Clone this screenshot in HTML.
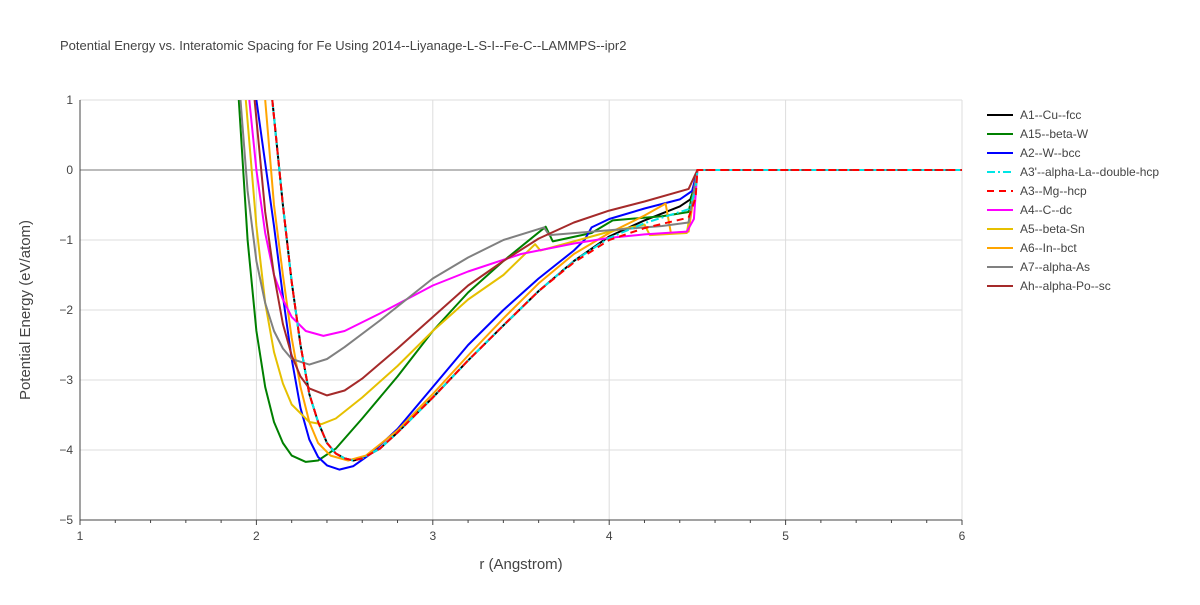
<!DOCTYPE html>
<html><head><meta charset="utf-8"><style>
body{margin:0;background:#fff;font-family:"Liberation Sans",sans-serif}
svg text{font-family:"Liberation Sans",sans-serif}
</style></head><body>
<svg id="chart" width="1200" height="600" xmlns="http://www.w3.org/2000/svg">
<defs><clipPath id="plotclip"><rect x="80" y="100" width="882" height="420"/></clipPath></defs>
<text x="60" y="50" font-size="13" fill="#444">Potential Energy vs. Interatomic Spacing for Fe Using 2014--Liyanage-L-S-I--Fe-C--LAMMPS--ipr2</text>
<g id="grid"></g>
<g id="axes"></g>
<g id="series" clip-path="url(#plotclip)"></g>
<g id="legend"></g>
<text x="521" y="569" font-size="15" fill="#444" text-anchor="middle">r (Angstrom)</text>
<text transform="translate(30,310) rotate(-90)" font-size="15" fill="#444" text-anchor="middle">Potential Energy (eV/atom)</text>
</svg>
<script>
const xTicks=[1,2,3,4,5,6];
const yTicks=[1,0,-1,-2,-3,-4,-5];
const seriesNames=["A1--Cu--fcc","A15--beta-W","A2--W--bcc","A3'--alpha-La--double-hcp","A3--Mg--hcp","A4--C--dc","A5--beta-Sn","A6--In--bct","A7--alpha-As","Ah--alpha-Po--sc"];
const seriesColors=["#000000","#008000","#0000ff","#00e5e5","#ff0000","#ff00ff","#e6c000","#ffa500","#808080","#a52a2a"];
const seriesDash=["","","","8,3,2,3","7,5","","","","",""];
const tail=[[4.5,0],[6,0]];
const rA1=[2.09,2.15,2.2,2.25,2.3,2.35,2.4,2.45,2.5,2.55,2.6,2.7,2.8,3.0,3.2,3.4,3.6,3.8,4.0,4.2,4.4,4.46,4.49,4.5,6];
const eA1=[1,-0.5,-1.6,-2.5,-3.2,-3.6,-3.9,-4.05,-4.12,-4.15,-4.12,-3.98,-3.75,-3.25,-2.72,-2.22,-1.73,-1.3,-0.95,-0.72,-0.52,-0.42,-0.2,0,0];
const rA15=[1.9,1.95,2.0,2.05,2.1,2.15,2.2,2.28,2.35,2.45,2.6,2.8,3.0,3.2,3.4,3.64,3.68,3.9,4.02,4.3,4.45,4.5,6];
const eA15=[1,-1.0,-2.3,-3.1,-3.6,-3.9,-4.08,-4.17,-4.15,-3.98,-3.55,-2.95,-2.3,-1.75,-1.3,-0.81,-1.02,-0.9,-0.72,-0.66,-0.6,0,0];
const rA2=[2.0,2.1,2.15,2.2,2.25,2.3,2.35,2.4,2.47,2.55,2.65,2.8,3.0,3.2,3.4,3.6,3.8,3.86,3.9,4.0,4.2,4.4,4.47,4.5,6];
const eA2=[1,-0.8,-1.8,-2.7,-3.4,-3.85,-4.1,-4.22,-4.28,-4.23,-4.05,-3.7,-3.1,-2.5,-2.0,-1.55,-1.15,-1.0,-0.82,-0.7,-0.55,-0.42,-0.3,0,0];
const rA3p=[2.09,2.15,2.2,2.25,2.3,2.35,2.4,2.45,2.5,2.55,2.6,2.7,2.8,3.0,3.2,3.4,3.6,3.8,4.0,4.2,4.45,4.49,4.5,6];
const eA3p=[1,-0.5,-1.6,-2.5,-3.2,-3.6,-3.9,-4.05,-4.12,-4.15,-4.12,-3.98,-3.75,-3.25,-2.72,-2.22,-1.73,-1.3,-0.97,-0.76,-0.56,-0.3,0,0];
const rA3=[2.09,2.15,2.2,2.25,2.3,2.35,2.4,2.45,2.5,2.55,2.6,2.7,2.8,3.0,3.2,3.4,3.6,3.8,4.0,4.2,4.45,4.49,4.5,6];
const eA3=[1,-0.5,-1.6,-2.5,-3.2,-3.6,-3.9,-4.05,-4.12,-4.15,-4.12,-3.98,-3.75,-3.25,-2.72,-2.22,-1.73,-1.32,-1.0,-0.83,-0.68,-0.4,0,0];
const rA4=[1.96,2.0,2.05,2.1,2.15,2.2,2.28,2.38,2.5,2.7,3.0,3.2,3.5,3.8,4.0,4.2,4.44,4.48,4.5,6];
const eA4=[1,0,-0.9,-1.5,-1.85,-2.1,-2.3,-2.37,-2.3,-2.05,-1.65,-1.45,-1.2,-1.05,-0.97,-0.92,-0.88,-0.7,0,0];
const rA5=[1.94,2.0,2.05,2.1,2.15,2.2,2.3,2.37,2.45,2.6,2.8,3.0,3.2,3.4,3.58,3.61,3.8,4.0,4.2,4.23,4.44,4.5,6];
const eA5=[1,-0.8,-1.9,-2.6,-3.05,-3.35,-3.6,-3.63,-3.55,-3.25,-2.8,-2.3,-1.85,-1.5,-1.06,-1.15,-1.02,-0.88,-0.78,-0.93,-0.9,0,0];
const rA6=[2.05,2.1,2.15,2.2,2.25,2.3,2.35,2.42,2.52,2.62,2.8,3.0,3.2,3.4,3.6,3.8,4.0,4.2,4.32,4.35,4.45,4.5,6];
const eA6=[1,-0.5,-1.5,-2.4,-3.1,-3.6,-3.9,-4.08,-4.15,-4.08,-3.72,-3.2,-2.65,-2.12,-1.62,-1.2,-0.9,-0.65,-0.48,-0.9,-0.88,0,0];
const rA7=[1.91,1.95,2.0,2.05,2.1,2.15,2.2,2.3,2.4,2.5,2.7,3.0,3.2,3.4,3.63,3.66,4.0,4.3,4.45,4.5,6];
const eA7=[1,-0.3,-1.3,-1.9,-2.3,-2.55,-2.7,-2.78,-2.7,-2.53,-2.15,-1.55,-1.25,-1.0,-0.82,-0.93,-0.86,-0.8,-0.75,0,0];
const rAh=[1.99,2.05,2.1,2.15,2.2,2.25,2.3,2.4,2.5,2.6,2.8,3.0,3.2,3.4,3.6,3.8,4.0,4.2,4.45,4.5,6];
const eAh=[1,-0.6,-1.5,-2.2,-2.65,-2.95,-3.12,-3.22,-3.15,-2.98,-2.55,-2.1,-1.65,-1.3,-0.98,-0.75,-0.58,-0.45,-0.27,0,0];
const allR=[rA1,rA15,rA2,rA3p,rA3,rA4,rA5,rA6,rA7,rAh];
const allE=[eA1,eA15,eA2,eA3p,eA3,eA4,eA5,eA6,eA7,eAh];
const NS="http://www.w3.org/2000/svg";
const xs=r=>80+(r-1)*176.4;
const ys=e=>100+(1-e)*70;
function mk(tag,attrs,parent){const el=document.createElementNS(NS,tag);for(const k in attrs)el.setAttribute(k,attrs[k]);parent.appendChild(el);return el;}
const grid=document.getElementById('grid'),axes=document.getElementById('axes'),ser=document.getElementById('series'),leg=document.getElementById('legend');
xTicks.forEach(t=>{
  if(t>1){const l=mk('line',{x1:xs(t),x2:xs(t),y1:100,y2:520,stroke:'#ddd','stroke-width':1},grid);
  
  }
  const tx=mk('text',{x:xs(t),y:540,'font-size':12,fill:'#444','text-anchor':'middle'},axes);tx.textContent=t;
  
  
});
for(let i=0;i<=25;i++){const r=1+i*0.2;const m=mk('line',{x1:xs(r),x2:xs(r),y1:520,y2:i%5===0?525:523,stroke:'#444','stroke-width':1},axes);
  
  }
yTicks.forEach(t=>{
  const l=mk('line',{x1:80,x2:962,y1:ys(t),y2:ys(t),stroke:t===0?'#bbb':'#ddd','stroke-width':t===0?2:1},grid);
  
  
  const tx=mk('text',{x:73,y:ys(t)+4,'font-size':12,fill:'#444','text-anchor':'end'},axes);tx.textContent=(t<0?'\u2212'+(-t):t);
  
  
});
const ax1=mk('line',{x1:80,x2:80,y1:100,y2:520,stroke:'#444','stroke-width':1},axes);


const ax2=mk('line',{x1:80,x2:962,y1:520,y2:520,stroke:'#444','stroke-width':1},axes);


const order=[0,1,2,7,6,5,8,9,3,4];
order.forEach(i=>{
  const pts=allR[i].map((r,j)=>xs(r).toFixed(1)+','+ys(allE[i][j]).toFixed(1)).join(' ');
  const p=mk('polyline',{points:pts,fill:'none',stroke:seriesColors[i],'stroke-width':2,'stroke-linejoin':'round'},ser);
  if(seriesDash[i])p.setAttribute('stroke-dasharray',seriesDash[i]);
  
  
});
seriesNames.forEach((n,i)=>{
  const y=115+i*19;
  const g=mk('g',{},leg);
  
  
  const l=mk('line',{x1:987,x2:1013,y1:y,y2:y,stroke:seriesColors[i],'stroke-width':2},g);
  if(seriesDash[i])l.setAttribute('stroke-dasharray',seriesDash[i]);
  const t=mk('text',{x:1020,y:y+4,'font-size':12,fill:'#444'},g);t.textContent=n;
});
</script>
</body></html>
